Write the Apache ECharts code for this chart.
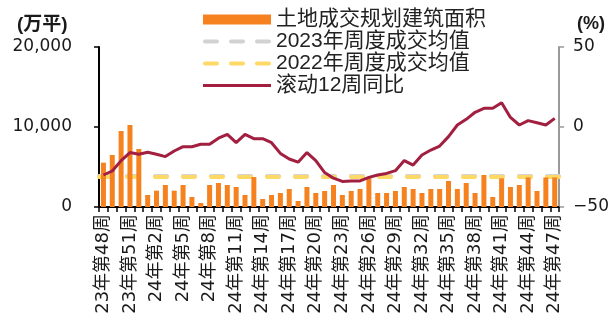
<!DOCTYPE html>
<html>
<head>
<meta charset="utf-8">
<style>
  html, body { margin: 0; padding: 0; background: #ffffff; }
  #chart { width: 612px; height: 336px; }
</style>
<script src="https://cdn.jsdelivr.net/npm/echarts@6/dist/echarts.min.js"></script>
</head>
<body>
<div id="chart"></div>
<script>
// Weekly categories: 2023 W48 – 2024 W47
const weeks = [
  '23年第48周','23年第49周','23年第50周','23年第51周','23年第52周',
  '24年第1周','24年第2周','24年第3周','24年第4周','24年第5周','24年第6周',
  '24年第7周','24年第8周','24年第9周','24年第10周','24年第11周','24年第12周',
  '24年第13周','24年第14周','24年第15周','24年第16周','24年第17周','24年第18周',
  '24年第19周','24年第20周','24年第21周','24年第22周','24年第23周','24年第24周',
  '24年第25周','24年第26周','24年第27周','24年第28周','24年第29周','24年第30周',
  '24年第31周','24年第32周','24年第33周','24年第34周','24年第35周','24年第36周',
  '24年第37周','24年第38周','24年第39周','24年第40周','24年第41周','24年第42周',
  '24年第43周','24年第44周','24年第45周','24年第46周','24年第47周'
];

// Land transaction planned floor area (万平)
const landArea = [
  5540, 6500, 9500, 10250, 7250, 1500, 2040, 2750, 2040, 2750, 1250, 500,
  2750, 3000, 2750, 2500, 1500, 3750, 1000, 1500, 1750, 2250, 750, 2500,
  1750, 2000, 2750, 1500, 2000, 2250, 3700, 1750, 1750, 2000, 2500, 2250,
  1750, 2250, 2250, 3250, 2250, 3000, 1750, 4000, 1250, 3580, 2500, 2750,
  3700, 2000, 3700, 3700
];

// Rolling 12-week YoY (%)
const rolling12 = [
  -30, -27.5, -21, -16, -17, -15.8, -17, -18.5, -15, -12.3, -12.3, -10.8,
  -10.8, -7, -4.6, -9.8, -4.6, -7.3, -7.3, -9.8, -16.5, -20, -22, -16,
  -21, -28.5, -32, -34, -33.8, -33.7, -31.5, -30, -29, -27.3, -21, -23.8,
  -17.5, -14.4, -11.9, -6, 1.25, 4.8, 9.2, 11.7, 11.7, 15.2, 6, 1.25,
  4, 2.7, 1.25, 5.4
];

// Weekly averages (万平)
const avg2023 = 3850;
const avg2022 = 3780;

const leftTicks = { min: 0, max: 20000, interval: 10000 };
const rightTicks = { min: -50, max: 50, interval: 50 };

const seriesNames = ['土地成交规划建筑面积', '2023年周度成交均值', '2022年周度成交均值', '滚动12周同比'];

const colors = {
  bar: '#F5821F',
  gray: '#D2D2D2',
  yellow: '#FFD966',
  line: '#A21F40',
  text: '#1a1a1a'
};

const numFont = '"DejaVu Sans", "Noto Sans CJK SC", sans-serif';
const cjkFont = '"Liberation Sans", "Noto Sans CJK SC", sans-serif';

const chart = echarts.init(document.getElementById('chart'), null, { renderer: 'canvas' });

const dashStyle = (color) => ({
  color: color,
  width: 4,
  type: [12, 16],
  cap: 'round'
});

// legend entry for a line series: stroke only, marker hidden
const lineLegend = (name, color, dashed) => ({
  name: name,
  itemStyle: { opacity: 0 },
  lineStyle: dashed
    ? { color: color, width: 4, type: [12, 14], cap: 'round', dashOffset: -2 }
    : { color: color, width: 3, type: 'solid' }
});

chart.setOption({
  animation: false,
  backgroundColor: '#ffffff',
  grid: { left: 99, right: 49, top: 47, bottom: 129 },
  legend: {
    orient: 'vertical',
    left: 196,
    top: 4,
    itemWidth: 68,
    itemHeight: 10,
    itemGap: 1,
    itemTextGap: 9,
    textStyle: { fontFamily: cjkFont, fontSize: 21, color: '#222', lineHeight: 21 },
    data: [
      { name: seriesNames[0], icon: 'rect' },
      lineLegend(seriesNames[1], colors.gray, true),
      lineLegend(seriesNames[2], colors.yellow, true),
      lineLegend(seriesNames[3], colors.line, false)
    ]
  },
  graphic: [
    {
      type: 'text', left: 17, top: 15,
      style: { text: '(万平)', fontFamily: cjkFont, fontSize: 19, fontWeight: 'bold', fill: colors.text }
    },
    {
      type: 'text', left: 577, top: 15,
      style: { text: '(%)', fontFamily: cjkFont, fontSize: 18, fontWeight: 'bold', fill: colors.text }
    }
  ],
  xAxis: {
    type: 'category',
    data: weeks,
    boundaryGap: true,
    axisLine: { lineStyle: { color: '#000', width: 2 } },
    axisTick: { show: true, interval: 0, length: 5, lineStyle: { color: '#000', width: 1.5 } },
    axisLabel: {
      interval: 2,
      rotate: 90,
      margin: 7,
      fontFamily: numFont,
      fontSize: 18,
      color: colors.text
    },
    splitLine: { show: false }
  },
  yAxis: [
    {
      type: 'value',
      min: leftTicks.min,
      max: leftTicks.max,
      interval: leftTicks.interval,
      axisLine: { show: true, lineStyle: { color: '#000', width: 2 } },
      axisTick: { show: true, length: 5, lineStyle: { color: '#000', width: 1.5 } },
      axisLabel: {
        margin: 27,
        fontFamily: numFont,
        fontSize: 17,
        color: colors.text,
        formatter: (v) => v === 0 ? '0' : v.toLocaleString('en-US')
      },
      splitLine: { show: false }
    },
    {
      type: 'value',
      min: rightTicks.min,
      max: rightTicks.max,
      interval: rightTicks.interval,
      position: 'right',
      axisLine: { show: true, lineStyle: { color: '#9a9a9a', width: 2 } },
      axisTick: { show: true, length: 5, lineStyle: { color: '#9a9a9a', width: 1.5 } },
      axisLabel: {
        margin: 14,
        fontFamily: numFont,
        fontSize: 17,
        color: colors.text,
        formatter: (v) => v < 0 ? '\u2212' + Math.abs(v) : String(v)
      },
      splitLine: { show: false }
    }
  ],
  series: [
    {
      name: seriesNames[0],
      type: 'bar',
      data: landArea,
      barWidth: 5,
      z: 3,
      itemStyle: { color: colors.bar }
    },
    {
      name: seriesNames[1],
      type: 'line',
      data: [],
      symbol: 'none',
      z: 1,
      lineStyle: dashStyle(colors.gray),
      itemStyle: { color: colors.gray },
      markLine: {
        silent: true,
        symbol: 'none',
        z: 1,
        label: { show: false },
        lineStyle: dashStyle(colors.gray),
        data: [{ yAxis: avg2023 }]
      }
    },
    {
      name: seriesNames[2],
      type: 'line',
      data: [],
      symbol: 'none',
      z: 2,
      lineStyle: dashStyle(colors.yellow),
      itemStyle: { color: colors.yellow },
      markLine: {
        silent: true,
        symbol: 'none',
        z: 2,
        label: { show: false },
        lineStyle: dashStyle(colors.yellow),
        data: [{ yAxis: avg2022 }]
      }
    },
    {
      name: seriesNames[3],
      type: 'line',
      yAxisIndex: 1,
      data: rolling12,
      symbol: 'none',
      z: 5,
      lineStyle: { color: colors.line, width: 3 },
      itemStyle: { color: colors.line }
    }
  ]
});
</script>
</body>
</html>
